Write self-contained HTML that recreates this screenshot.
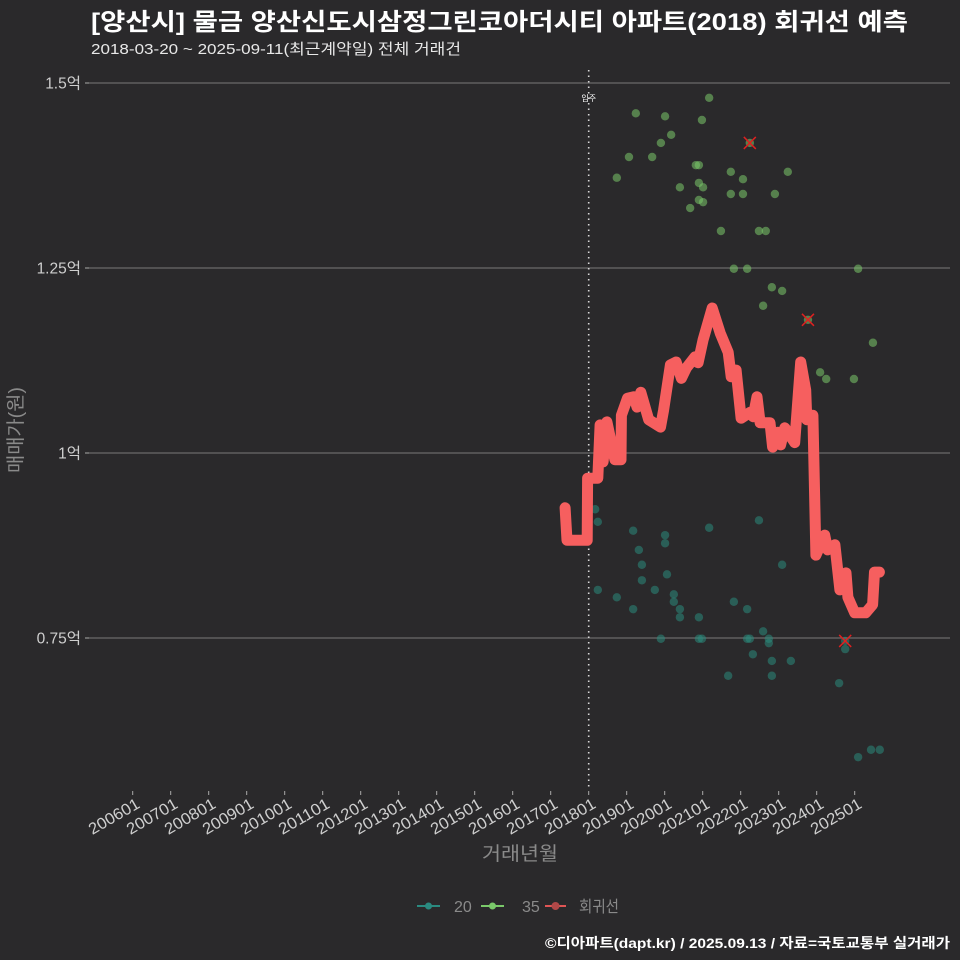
<!DOCTYPE html>
<html><head><meta charset="utf-8">
<style>
html,body{margin:0;padding:0;background:#2a292b;}
svg{display:block;font-family:"Liberation Sans","Noto Sans CJK KR",sans-serif;}
</style></head>
<body>
<svg id="chart" width="960" height="960" viewBox="0 0 960 960">
<rect x="0" y="0" width="960" height="960" fill="#2a292b"/>
<text x="91" y="30" fill="#ffffff" font-size="24" font-weight="bold" textLength="817" lengthAdjust="spacingAndGlyphs">[양산시] 물금 양산신도시삼정그린코아더시티 아파트(2018) 회귀선 예측</text>
<text x="91" y="54" fill="#e8e8e8" font-size="15" textLength="370" lengthAdjust="spacingAndGlyphs">2018-03-20 ~ 2025-09-11(최근계약일) 전체 거래건</text>
<g id="grid"></g>
<g id="yaxis"></g>
<g id="xaxis"></g>
<line x1="588.7" y1="70" x2="588.7" y2="790" stroke="#d8d8d8" stroke-width="1.6" stroke-dasharray="1.5,4"/>
<text x="588.7" y="101" fill="#ffffff" font-size="8" text-anchor="middle">입주</text>
<g id="pts20"></g>
<g id="pts35"></g>
<path id="regline" fill="none" stroke="#f65f5f" stroke-width="11" stroke-linejoin="round" stroke-linecap="round"/>
<g id="marks"></g>
<text transform="translate(22,430) rotate(-90)" fill="#8a8a8a" font-size="19" text-anchor="middle" textLength="86" lengthAdjust="spacingAndGlyphs">매매가(원)</text>
<text x="520" y="860" fill="#8a8a8a" font-size="19" text-anchor="middle" textLength="76" lengthAdjust="spacingAndGlyphs">거래년월</text>
<g>
<g>
<line x1="417" y1="906" x2="440" y2="906" stroke="#2a8a80" stroke-width="2"/><circle cx="428.5" cy="906" r="3.5" fill="#2a8a80"/>
<text x="454" y="912" fill="#8a8a8a" font-size="16">20</text></g>
<g>
<line x1="481" y1="906" x2="504" y2="906" stroke="#7ac96a" stroke-width="2"/><circle cx="492.5" cy="906" r="3.5" fill="#7ac96a"/>
<text x="522" y="912" fill="#8a8a8a" font-size="16">35</text></g>
<g>
<line x1="545" y1="906" x2="566" y2="906" stroke="#e05555" stroke-width="2"/><circle cx="555.5" cy="906" r="4" fill="#b04848"/>
<text x="579" y="912" fill="#8a8a8a" font-size="16" textLength="40" lengthAdjust="spacingAndGlyphs">회귀선</text></g>
</g>
<text x="950" y="948" fill="#ffffff" font-size="14" font-weight="bold" text-anchor="end" textLength="405" lengthAdjust="spacingAndGlyphs">©디아파트(dapt.kr) / 2025.09.13 / 자료=국토교통부 실거래가</text>
</svg>
<script>
const yTicks=[0.75,1.0,1.25,1.5];
const yTickLabels=["0.75억","1억","1.25억","1.5억"];
const xTickYears=[2006,2007,2008,2009,2010,2011,2012,2013,2014,2015,2016,2017,2018,2019,2020,2021,2022,2023,2024,2025];
const xTickLabels=["200601","200701","200801","200901","201001","201101","201201","201301","201401","201501","201601","201701","201801","201901","202001","202101","202201","202301","202401","202501"];
const regDates=[2017.38,2017.43,2017.96,2017.97,2018.24,2018.30,2018.38,2018.48,2018.69,2018.85,2018.86,2019.02,2019.19,2019.27,2019.37,2019.58,2019.89,2019.97,2020.15,2020.30,2020.44,2020.57,2020.80,2020.88,2021.01,2021.25,2021.46,2021.67,2021.75,2021.88,2022.01,2022.25,2022.33,2022.43,2022.51,2022.77,2022.84,2022.98,2023.05,2023.16,2023.42,2023.58,2023.71,2023.74,2023.90,2023.98,2024.21,2024.29,2024.48,2024.61,2024.77,2024.82,2025.00,2025.29,2025.47,2025.52,2025.65];
const regValues=[0.926,0.882,0.882,0.966,0.966,1.038,0.988,1.042,0.991,0.991,1.051,1.074,1.076,1.062,1.082,1.045,1.035,1.058,1.119,1.123,1.101,1.115,1.130,1.122,1.153,1.196,1.162,1.136,1.103,1.112,1.047,1.055,1.049,1.076,1.041,1.041,1.008,1.028,1.011,1.034,1.014,1.123,1.085,1.045,1.051,0.862,0.889,0.869,0.876,0.815,0.838,0.805,0.784,0.784,0.795,0.839,0.839];
const s35Dates=[2021.17,2019.24,2020.01,2020.98,2020.17,2019.90,2022.24,2019.06,2019.67,2020.82,2020.90,2021.74,2023.24,2018.74,2022.06,2020.40,2020.90,2021.01,2021.74,2022.06,2022.90,2020.90,2021.01,2020.67,2021.48,2022.48,2022.66,2021.82,2022.17,2025.09,2022.82,2023.09,2022.59,2023.77,2025.48,2024.09,2024.25,2024.98];
const s35Values=[1.480,1.459,1.455,1.450,1.430,1.419,1.419,1.400,1.400,1.389,1.389,1.380,1.380,1.372,1.370,1.359,1.365,1.359,1.350,1.350,1.350,1.342,1.339,1.331,1.300,1.300,1.300,1.249,1.249,1.249,1.224,1.219,1.199,1.180,1.149,1.109,1.100,1.100];
const s20Dates=[2018.17,2018.24,2022.48,2019.17,2020.01,2020.01,2021.17,2019.32,2019.40,2023.09,2020.06,2019.40,2018.24,2019.74,2018.74,2020.24,2020.24,2021.82,2019.17,2020.40,2022.17,2020.40,2020.90,2022.59,2019.90,2020.90,2020.98,2022.17,2022.24,2022.74,2022.74,2024.75,2024.75,2022.32,2022.82,2023.32,2021.67,2022.82,2024.59,2025.09,2025.43,2025.66];
const s20Values=[0.924,0.907,0.909,0.895,0.889,0.878,0.899,0.869,0.849,0.849,0.836,0.828,0.815,0.815,0.805,0.809,0.799,0.799,0.789,0.789,0.789,0.778,0.778,0.759,0.749,0.749,0.749,0.749,0.749,0.749,0.743,0.746,0.735,0.728,0.719,0.719,0.699,0.699,0.689,0.589,0.599,0.599];
const markDates=[2022.24,2023.77,2024.75];
const markValues=[1.419,1.180,0.746];

const NS="http://www.w3.org/2000/svg";
const X=d=>588.7+(d-2018)*38;
const Y=v=>453-(v-1)*740;
function mk(tag,attrs,parent){const e=document.createElementNS(NS,tag);for(const k in attrs)e.setAttribute(k,attrs[k]);parent.appendChild(e);return e;}
const grid=document.getElementById('grid'),yax=document.getElementById('yaxis'),xax=document.getElementById('xaxis');
yTicks.forEach((v,i)=>{
  const g=mk('line',{x1:89,x2:950,y1:Y(v),y2:Y(v),stroke:'#6a6a6a','stroke-width':1.2},grid);
  
  
  const t=mk('line',{x1:85,x2:89,y1:Y(v),y2:Y(v),stroke:'#aaaaaa','stroke-width':1},yax);
  
  
  const l=mk('text',{x:81,y:Y(v)+5.5,fill:'#cfcfcf','font-size':15.5,'text-anchor':'end'},yax);
  l.textContent=yTickLabels[i];
  
  
});
xTickYears.forEach((yr,i)=>{
  const x=X(yr);
  const t=mk('line',{x1:x,x2:x,y1:791,y2:795,stroke:'#aaaaaa','stroke-width':1},xax);
  
  
  const l=mk('text',{transform:`translate(${x+3},${798}) rotate(-30)`,fill:'#cfcfcf','font-size':16,'text-anchor':'end','dominant-baseline':'hanging',textLength:56,lengthAdjust:'spacingAndGlyphs'},xax);
  l.textContent=xTickLabels[i];
  
  
});
const p20=document.getElementById('pts20');
s20Dates.forEach((d,i)=>{
  const c=mk('circle',{cx:X(d),cy:Y(s20Values[i]),r:4.2,fill:'#2a8a7c','fill-opacity':0.55},p20);
  
  
});
const p35=document.getElementById('pts35');
s35Dates.forEach((d,i)=>{
  const c=mk('circle',{cx:X(d),cy:Y(s35Values[i]),r:4.2,fill:'#7ac96a','fill-opacity':0.55},p35);
  
  
});
let dstr='';
regDates.forEach((d,i)=>{dstr+=(i?'L':'M')+X(d).toFixed(1)+','+Y(regValues[i]).toFixed(1);});
document.getElementById('regline').setAttribute('d',dstr);
const mg=document.getElementById('marks');
markDates.forEach((d,i)=>{
  const x=X(d),y=Y(markValues[i]);
  const p=mk('path',{d:`M${x-6},${y-6}L${x+6},${y+6}M${x-6},${y+6}L${x+6},${y-6}`,stroke:'#e02020','stroke-width':1.5,fill:'none'},mg);
  
  
});
</script>
</body></html>
